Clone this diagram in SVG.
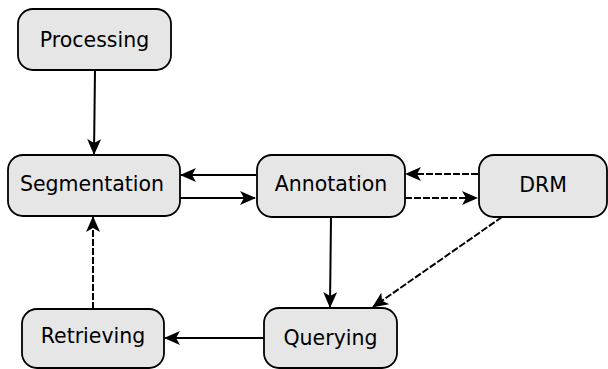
<svg xmlns="http://www.w3.org/2000/svg" width="608" height="369" viewBox="0 0 608 369">
<style>
.n rect{fill:#e6e6e6;stroke:#000;stroke-width:1.8}
.n text{font-family:"DejaVu Sans",sans-serif;font-size:20.5px;fill:#000;text-anchor:middle;dominant-baseline:central}
.c line{stroke:#000;stroke-width:2;fill:none}
.c .d{stroke-dasharray:7,2}
</style>
<defs>
<marker id="a" markerWidth="16" markerHeight="14" refX="15" refY="7" orient="auto" markerUnits="userSpaceOnUse">
<path d="M0,0 L16,7 L0,14 L4,7 Z" fill="#000"/>
</marker>
</defs>
<rect width="608" height="369" fill="#fff"/>
<g class="c">
<line x1="95" y1="70" x2="94" y2="154" marker-end="url(#a)"/>
<line x1="256" y1="175" x2="181" y2="175" marker-end="url(#a)"/>
<line x1="180" y1="198" x2="255" y2="198" marker-end="url(#a)"/>
<line class="d" x1="478" y1="174" x2="406" y2="174" marker-end="url(#a)"/>
<line class="d" x1="405" y1="198" x2="477" y2="198" marker-end="url(#a)"/>
<line x1="331" y1="217" x2="330" y2="307" marker-end="url(#a)"/>
<line class="d" x1="502" y1="217" x2="373" y2="307" marker-end="url(#a)"/>
<line x1="264" y1="338" x2="165" y2="338" marker-end="url(#a)"/>
<line class="d" x1="93" y1="309" x2="93" y2="217" marker-end="url(#a)"/>
</g>
<g id="processing" class="n"><rect x="18" y="9" width="153" height="61" rx="15"/><text x="94.5" y="40">Processing</text></g>
<g id="segmentation" class="n"><rect x="8" y="155" width="172" height="61" rx="15"/><text x="92" y="184">Segmentation</text></g>
<g id="annotation" class="n"><rect x="257" y="155" width="148" height="62" rx="15"/><text x="331" y="184">Annotation</text></g>
<g id="drm" class="n"><rect x="479" y="155" width="128" height="62" rx="15"/><text x="543" y="185">DRM</text></g>
<g id="querying" class="n"><rect x="264" y="308" width="133" height="60" rx="15"/><text x="330.5" y="338">Querying</text></g>
<g id="retrieving" class="n"><rect x="22" y="309" width="142" height="59" rx="15"/><text x="93" y="336">Retrieving</text></g>
</svg>
